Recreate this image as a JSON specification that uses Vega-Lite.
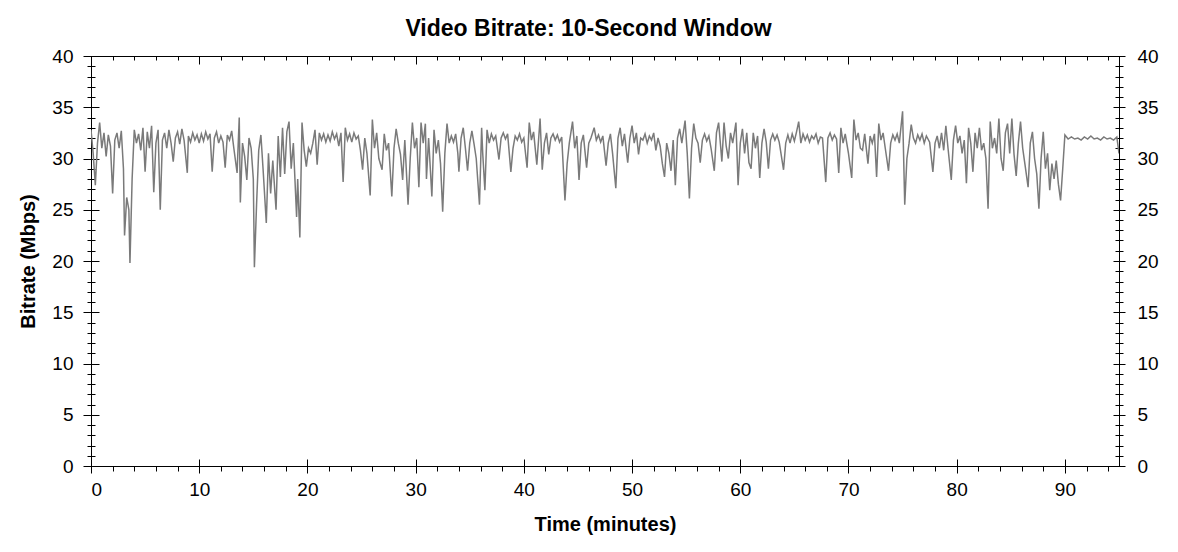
{
"$schema":"https://vega.github.io/schema/vega-lite/v6.json",
"width":1028,"height":410,
"autosize":{"type":"none"},
"padding":{"left":91,"top":56,"right":59,"bottom":86},
"background":"white",
"title":{"text":"Video Bitrate: 10-Second Window","frame":"bounds","anchor":"middle","font":"Liberation Sans","fontSize":23,"fontWeight":"bold","color":"black","offset":6},
"config":{
"view":{"stroke":"black","strokeWidth":1},
"axis":{"domain":false,"grid":false,"tickColor":"black","tickWidth":1,"labelFont":"Liberation Sans","labelFontSize":19,"labelColor":"black","titleFont":"Liberation Sans","titleFontSize":20,"titleFontWeight":"bold","titleColor":"black"}
},
"data":{"values":[
{"t":0.0,"v":32.8},{"t":0.2,"v":30.5},{"t":0.4,"v":27.4},{"t":0.6,"v":31.5},{"t":0.8,"v":33.5},{"t":1.0,"v":31.0},{"t":1.2,"v":32.5},{"t":1.4,"v":30.2},{"t":1.6,"v":32.3},{"t":1.8,"v":31.2},
{"t":2.0,"v":26.6},{"t":2.2,"v":31.8},{"t":2.4,"v":32.5},{"t":2.6,"v":31.0},{"t":2.8,"v":32.7},{"t":3.0,"v":29.0},{"t":3.1,"v":22.5},{"t":3.3,"v":26.2},{"t":3.5,"v":25.0},{"t":3.6,"v":19.8},
{"t":3.8,"v":28.0},{"t":4.0,"v":32.8},{"t":4.2,"v":31.5},{"t":4.4,"v":32.4},{"t":4.6,"v":30.8},{"t":4.8,"v":33.0},{"t":5.0,"v":28.7},{"t":5.2,"v":32.6},{"t":5.4,"v":31.0},{"t":5.6,"v":33.2},
{"t":5.8,"v":26.7},{"t":6.0,"v":31.5},{"t":6.2,"v":32.8},{"t":6.4,"v":25.0},{"t":6.6,"v":31.8},{"t":6.8,"v":32.5},{"t":7.0,"v":31.0},{"t":7.2,"v":32.8},{"t":7.4,"v":31.5},{"t":7.6,"v":29.7},
{"t":7.8,"v":32.0},{"t":8.0,"v":32.6},{"t":8.2,"v":31.4},{"t":8.4,"v":32.9},{"t":8.6,"v":31.8},{"t":8.9,"v":28.6},{"t":9.0,"v":32.2},{"t":9.2,"v":31.6},{"t":9.4,"v":32.5},{"t":9.6,"v":31.8},
{"t":9.8,"v":32.3},{"t":10.0,"v":31.5},{"t":10.2,"v":32.4},{"t":10.4,"v":31.7},{"t":10.6,"v":32.6},{"t":10.8,"v":31.9},{"t":11.0,"v":32.4},{"t":11.2,"v":28.7},{"t":11.4,"v":32.0},{"t":11.6,"v":32.6},
{"t":11.8,"v":31.5},{"t":12.0,"v":32.2},{"t":12.2,"v":31.6},{"t":12.4,"v":29.1},{"t":12.6,"v":32.3},{"t":12.8,"v":31.8},{"t":13.0,"v":32.7},{"t":13.2,"v":31.0},{"t":13.5,"v":28.6},{"t":13.7,"v":34.0},
{"t":13.8,"v":25.7},{"t":14.0,"v":31.5},{"t":14.2,"v":30.2},{"t":14.4,"v":27.9},{"t":14.6,"v":32.0},{"t":14.8,"v":31.0},{"t":15.0,"v":28.0},{"t":15.1,"v":19.4},{"t":15.3,"v":25.5},{"t":15.5,"v":30.8},
{"t":15.7,"v":32.3},{"t":15.9,"v":29.0},{"t":16.2,"v":23.7},{"t":16.4,"v":30.5},{"t":16.6,"v":26.6},{"t":16.8,"v":29.8},{"t":17.1,"v":25.0},{"t":17.3,"v":32.2},{"t":17.5,"v":28.2},{"t":17.7,"v":33.0},
{"t":17.9,"v":28.5},{"t":18.1,"v":32.6},{"t":18.3,"v":33.6},{"t":18.5,"v":29.0},{"t":18.7,"v":31.5},{"t":19.0,"v":24.3},{"t":19.1,"v":28.0},{"t":19.3,"v":22.3},{"t":19.5,"v":33.5},{"t":19.7,"v":30.8},
{"t":19.9,"v":29.2},{"t":20.1,"v":31.0},{"t":20.3,"v":30.5},{"t":20.5,"v":31.5},{"t":20.7,"v":32.8},{"t":20.9,"v":29.4},{"t":21.1,"v":32.5},{"t":21.3,"v":31.8},{"t":21.5,"v":32.4},{"t":21.7,"v":31.6},
{"t":21.9,"v":32.3},{"t":22.1,"v":31.7},{"t":22.3,"v":32.6},{"t":22.5,"v":31.9},{"t":22.7,"v":32.4},{"t":22.9,"v":31.2},{"t":23.1,"v":32.5},{"t":23.3,"v":27.7},{"t":23.5,"v":33.0},{"t":23.7,"v":31.8},
{"t":23.9,"v":32.4},{"t":24.1,"v":31.6},{"t":24.3,"v":32.5},{"t":24.5,"v":31.9},{"t":24.7,"v":32.2},{"t":24.9,"v":30.8},{"t":25.1,"v":28.9},{"t":25.3,"v":32.0},{"t":25.5,"v":30.5},{"t":25.8,"v":26.4},
{"t":26.0,"v":33.8},{"t":26.2,"v":31.0},{"t":26.4,"v":32.5},{"t":26.6,"v":30.0},{"t":26.9,"v":28.9},{"t":27.1,"v":32.4},{"t":27.3,"v":30.8},{"t":27.5,"v":31.5},{"t":27.8,"v":26.3},{"t":28.0,"v":31.0},
{"t":28.2,"v":32.9},{"t":28.4,"v":31.5},{"t":28.6,"v":30.4},{"t":28.8,"v":27.9},{"t":29.0,"v":31.8},{"t":29.3,"v":25.5},{"t":29.5,"v":30.0},{"t":29.7,"v":33.5},{"t":29.9,"v":31.0},{"t":30.1,"v":32.0},
{"t":30.3,"v":27.2},{"t":30.5,"v":33.5},{"t":30.7,"v":31.5},{"t":30.9,"v":33.4},{"t":31.0,"v":28.0},{"t":31.2,"v":32.0},{"t":31.5,"v":26.3},{"t":31.7,"v":32.8},{"t":31.9,"v":30.5},{"t":32.1,"v":31.8},
{"t":32.3,"v":29.5},{"t":32.5,"v":24.8},{"t":32.7,"v":30.5},{"t":32.9,"v":33.4},{"t":33.1,"v":31.5},{"t":33.3,"v":32.2},{"t":33.5,"v":31.6},{"t":33.7,"v":32.4},{"t":33.9,"v":30.5},{"t":34.0,"v":28.7},
{"t":34.2,"v":32.0},{"t":34.4,"v":33.0},{"t":34.6,"v":31.0},{"t":34.8,"v":28.8},{"t":35.0,"v":31.5},{"t":35.2,"v":32.7},{"t":35.4,"v":31.4},{"t":35.6,"v":30.0},{"t":35.9,"v":25.5},{"t":36.1,"v":33.0},
{"t":36.2,"v":30.5},{"t":36.4,"v":26.9},{"t":36.6,"v":32.8},{"t":36.8,"v":31.5},{"t":37.0,"v":32.4},{"t":37.2,"v":31.8},{"t":37.4,"v":32.2},{"t":37.7,"v":29.9},{"t":37.9,"v":32.0},{"t":38.1,"v":32.5},
{"t":38.3,"v":31.9},{"t":38.5,"v":32.4},{"t":38.8,"v":28.7},{"t":39.0,"v":31.0},{"t":39.2,"v":32.2},{"t":39.4,"v":31.8},{"t":39.6,"v":32.4},{"t":39.8,"v":31.6},{"t":40.0,"v":32.0},{"t":40.3,"v":29.1},
{"t":40.5,"v":33.5},{"t":40.7,"v":31.8},{"t":40.9,"v":32.6},{"t":41.2,"v":29.4},{"t":41.5,"v":33.9},{"t":41.7,"v":28.9},{"t":41.9,"v":31.5},{"t":42.1,"v":32.5},{"t":42.3,"v":30.4},{"t":42.5,"v":32.0},
{"t":42.7,"v":32.4},{"t":42.9,"v":31.8},{"t":43.1,"v":32.3},{"t":43.3,"v":31.6},{"t":43.5,"v":32.1},{"t":43.8,"v":25.9},{"t":44.0,"v":29.5},{"t":44.2,"v":31.5},{"t":44.5,"v":33.6},{"t":44.7,"v":31.0},
{"t":44.9,"v":32.2},{"t":45.1,"v":27.9},{"t":45.3,"v":31.5},{"t":45.5,"v":32.3},{"t":45.8,"v":29.1},{"t":46.0,"v":31.5},{"t":46.2,"v":32.0},{"t":46.5,"v":33.0},{"t":46.7,"v":31.8},{"t":46.9,"v":32.3},
{"t":47.1,"v":31.6},{"t":47.3,"v":32.2},{"t":47.6,"v":29.3},{"t":47.8,"v":31.5},{"t":48.0,"v":32.4},{"t":48.2,"v":30.5},{"t":48.5,"v":27.1},{"t":48.7,"v":32.0},{"t":48.9,"v":33.0},{"t":49.1,"v":31.2},
{"t":49.3,"v":32.4},{"t":49.6,"v":29.6},{"t":49.8,"v":32.0},{"t":50.0,"v":33.2},{"t":50.2,"v":31.5},{"t":50.4,"v":32.5},{"t":50.6,"v":30.4},{"t":50.8,"v":32.0},{"t":51.0,"v":31.8},{"t":51.2,"v":32.4},
{"t":51.4,"v":31.5},{"t":51.6,"v":32.2},{"t":51.8,"v":31.8},{"t":52.0,"v":32.5},{"t":52.2,"v":30.8},{"t":52.4,"v":32.0},{"t":52.6,"v":31.2},{"t":52.8,"v":29.5},{"t":53.0,"v":28.2},{"t":53.2,"v":31.5},
{"t":53.4,"v":30.5},{"t":53.6,"v":28.8},{"t":53.8,"v":31.8},{"t":54.0,"v":27.4},{"t":54.2,"v":32.0},{"t":54.4,"v":32.9},{"t":54.6,"v":31.5},{"t":54.9,"v":33.7},{"t":55.1,"v":30.5},{"t":55.3,"v":26.1},
{"t":55.5,"v":31.0},{"t":55.7,"v":33.4},{"t":55.9,"v":32.0},{"t":56.1,"v":31.5},{"t":56.3,"v":29.6},{"t":56.5,"v":31.8},{"t":56.7,"v":32.4},{"t":56.9,"v":31.7},{"t":57.1,"v":32.2},{"t":57.3,"v":31.0},
{"t":57.6,"v":28.8},{"t":57.8,"v":32.5},{"t":58.0,"v":33.5},{"t":58.2,"v":31.0},{"t":58.3,"v":29.7},{"t":58.5,"v":33.5},{"t":58.7,"v":31.2},{"t":58.9,"v":30.0},{"t":59.1,"v":32.5},{"t":59.3,"v":31.5},
{"t":59.6,"v":33.5},{"t":59.8,"v":27.4},{"t":60.0,"v":31.5},{"t":60.2,"v":32.9},{"t":60.4,"v":30.5},{"t":60.6,"v":32.5},{"t":60.8,"v":29.6},{"t":61.0,"v":29.0},{"t":61.2,"v":32.5},{"t":61.4,"v":31.0},
{"t":61.6,"v":32.2},{"t":61.8,"v":28.1},{"t":62.0,"v":31.5},{"t":62.2,"v":32.9},{"t":62.4,"v":31.6},{"t":62.6,"v":29.0},{"t":62.8,"v":31.8},{"t":63.0,"v":32.4},{"t":63.2,"v":31.8},{"t":63.4,"v":32.3},
{"t":63.6,"v":31.6},{"t":64.0,"v":28.9},{"t":64.2,"v":31.5},{"t":64.4,"v":32.3},{"t":64.6,"v":31.5},{"t":64.8,"v":32.4},{"t":65.0,"v":31.7},{"t":65.2,"v":32.6},{"t":65.4,"v":33.6},{"t":65.6,"v":31.5},
{"t":65.8,"v":32.4},{"t":66.0,"v":31.8},{"t":66.2,"v":32.3},{"t":66.4,"v":31.6},{"t":66.6,"v":32.2},{"t":66.8,"v":31.9},{"t":67.0,"v":32.4},{"t":67.2,"v":31.5},{"t":67.4,"v":32.1},{"t":67.6,"v":32.0},
{"t":67.9,"v":27.7},{"t":68.1,"v":32.0},{"t":68.3,"v":32.5},{"t":68.5,"v":31.8},{"t":68.7,"v":32.3},{"t":68.9,"v":31.9},{"t":69.1,"v":28.6},{"t":69.3,"v":33.0},{"t":69.5,"v":31.5},{"t":69.7,"v":32.4},
{"t":70.0,"v":30.5},{"t":70.3,"v":28.1},{"t":70.5,"v":33.8},{"t":70.7,"v":31.8},{"t":70.9,"v":32.5},{"t":71.1,"v":31.0},{"t":71.3,"v":30.8},{"t":71.5,"v":32.4},{"t":71.8,"v":29.5},{"t":72.0,"v":32.2},
{"t":72.2,"v":31.5},{"t":72.4,"v":32.4},{"t":72.6,"v":28.2},{"t":72.8,"v":33.4},{"t":73.0,"v":31.8},{"t":73.2,"v":32.5},{"t":73.4,"v":31.0},{"t":73.7,"v":28.8},{"t":73.9,"v":31.5},{"t":74.1,"v":32.3},
{"t":74.3,"v":31.8},{"t":74.5,"v":32.4},{"t":74.7,"v":31.5},{"t":75.0,"v":34.6},{"t":75.2,"v":25.5},{"t":75.4,"v":30.0},{"t":75.6,"v":31.5},{"t":75.8,"v":33.3},{"t":76.0,"v":32.0},{"t":76.2,"v":31.5},
{"t":76.4,"v":32.3},{"t":76.6,"v":31.8},{"t":76.8,"v":32.4},{"t":77.0,"v":31.5},{"t":77.2,"v":32.2},{"t":77.5,"v":31.6},{"t":77.8,"v":28.7},{"t":78.0,"v":31.5},{"t":78.2,"v":32.2},{"t":78.4,"v":31.0},
{"t":78.6,"v":32.5},{"t":78.8,"v":30.8},{"t":79.0,"v":33.2},{"t":79.2,"v":31.0},{"t":79.5,"v":27.9},{"t":79.7,"v":31.8},{"t":79.9,"v":33.2},{"t":80.1,"v":31.5},{"t":80.3,"v":32.2},{"t":80.5,"v":30.5},
{"t":80.7,"v":31.8},{"t":80.9,"v":27.6},{"t":81.1,"v":33.0},{"t":81.3,"v":31.5},{"t":81.5,"v":28.7},{"t":81.7,"v":32.5},{"t":81.9,"v":31.0},{"t":82.1,"v":33.0},{"t":82.3,"v":30.8},{"t":82.5,"v":31.5},
{"t":82.7,"v":30.0},{"t":82.9,"v":25.1},{"t":83.1,"v":33.6},{"t":83.3,"v":31.0},{"t":83.5,"v":32.0},{"t":83.7,"v":30.5},{"t":83.9,"v":33.9},{"t":84.1,"v":30.0},{"t":84.3,"v":28.8},{"t":84.5,"v":32.5},
{"t":84.7,"v":33.4},{"t":84.9,"v":30.5},{"t":85.1,"v":33.9},{"t":85.3,"v":30.4},{"t":85.5,"v":28.3},{"t":85.7,"v":31.5},{"t":85.9,"v":33.6},{"t":86.1,"v":31.0},{"t":86.3,"v":29.5},{"t":86.6,"v":27.2},
{"t":86.8,"v":31.5},{"t":87.0,"v":32.6},{"t":87.2,"v":30.0},{"t":87.4,"v":28.5},{"t":87.6,"v":25.1},{"t":87.8,"v":30.0},{"t":88.0,"v":32.6},{"t":88.2,"v":29.0},{"t":88.4,"v":30.5},{"t":88.6,"v":26.9},
{"t":88.8,"v":29.5},{"t":89.0,"v":28.0},{"t":89.2,"v":29.8},{"t":89.4,"v":27.5},{"t":89.6,"v":25.9},{"t":89.8,"v":29.0},{"t":90.0,"v":32.3},{"t":90.3,"v":31.9},{"t":90.6,"v":32.1},{"t":90.9,"v":31.9},
{"t":91.2,"v":32.0},{"t":91.5,"v":31.8},{"t":91.8,"v":32.1},{"t":92.1,"v":31.9},{"t":92.4,"v":32.2},{"t":92.7,"v":31.9},{"t":93.0,"v":32.0},{"t":93.3,"v":31.8},{"t":93.6,"v":32.1},{"t":93.9,"v":31.9},
{"t":94.2,"v":32.0},{"t":94.5,"v":31.8},{"t":94.8,"v":32.1},{"t":95.0,"v":30.5}
]},
"resolve":{"axis":{"x":"independent","y":"independent"}},
"layer":[
{"mark":{"type":"line","color":"#7a7a7a","strokeWidth":1.5,"clip":true},
 "encoding":{
  "x":{"field":"t","type":"quantitative","scale":{"domain":[0,95],"nice":false,"zero":false},
   "axis":{"orient":"bottom","values":[0,10,20,30,40,50,60,70,80,90],"offset":-7,"tickSize":14,"labelPadding":7,"title":"Time (minutes)","titlePadding":15}},
  "y":{"field":"v","type":"quantitative","scale":{"domain":[0,40],"nice":false,"zero":false},
   "axis":{"orient":"left","values":[0,5,10,15,20,25,30,35,40],"offset":-8,"tickSize":16,"labelPadding":10,"title":"Bitrate (Mbps)","titlePadding":13}}}},
{"mark":{"type":"line","opacity":0},
 "encoding":{
  "x":{"field":"t","type":"quantitative","scale":{"domain":[0,95],"nice":false,"zero":false},
   "axis":{"orient":"bottom","values":[0,2,4,6,8,10,12,14,16,18,20,22,24,26,28,30,32,34,36,38,40,42,44,46,48,50,52,54,56,58,60,62,64,66,68,70,72,74,76,78,80,82,84,86,88,90,92,94],"offset":0,"tickSize":5,"labels":false,"title":null}},
  "y":{"field":"v","type":"quantitative","scale":{"domain":[0,40],"nice":false,"zero":false},
   "axis":{"orient":"left","values":[0,1,2,3,4,5,6,7,8,9,10,11,12,13,14,15,16,17,18,19,20,21,22,23,24,25,26,27,28,29,30,31,32,33,34,35,36,37,38,39,40],"offset":-4,"tickSize":8,"labels":false,"title":null}}}},
{"mark":{"type":"line","opacity":0},
 "encoding":{
  "x":{"field":"t","type":"quantitative","scale":{"domain":[0,95],"nice":false,"zero":false},
   "axis":{"orient":"top","values":[0,10,20,30,40,50,60,70,80,90],"offset":-8,"tickSize":8,"labels":false,"title":null}},
  "y":{"field":"v","type":"quantitative","scale":{"domain":[0,40],"nice":false,"zero":false},
   "axis":{"orient":"right","values":[0,5,10,15,20,25,30,35,40],"offset":-6,"tickSize":12,"labelPadding":12,"title":null}}}},
{"mark":{"type":"line","opacity":0},
 "encoding":{
  "x":{"field":"t","type":"quantitative","scale":{"domain":[0,95],"nice":false,"zero":false},
   "axis":{"orient":"top","values":[0,2,4,6,8,10,12,14,16,18,20,22,24,26,28,30,32,34,36,38,40,42,44,46,48,50,52,54,56,58,60,62,64,66,68,70,72,74,76,78,80,82,84,86,88,90,92,94],"offset":-4,"tickSize":4,"labels":false,"title":null}},
  "y":{"field":"v","type":"quantitative","scale":{"domain":[0,40],"nice":false,"zero":false},
   "axis":{"orient":"right","values":[0,1,2,3,4,5,6,7,8,9,10,11,12,13,14,15,16,17,18,19,20,21,22,23,24,25,26,27,28,29,30,31,32,33,34,35,36,37,38,39,40],"offset":-4,"tickSize":8,"labels":false,"title":null}}}}
]
}
